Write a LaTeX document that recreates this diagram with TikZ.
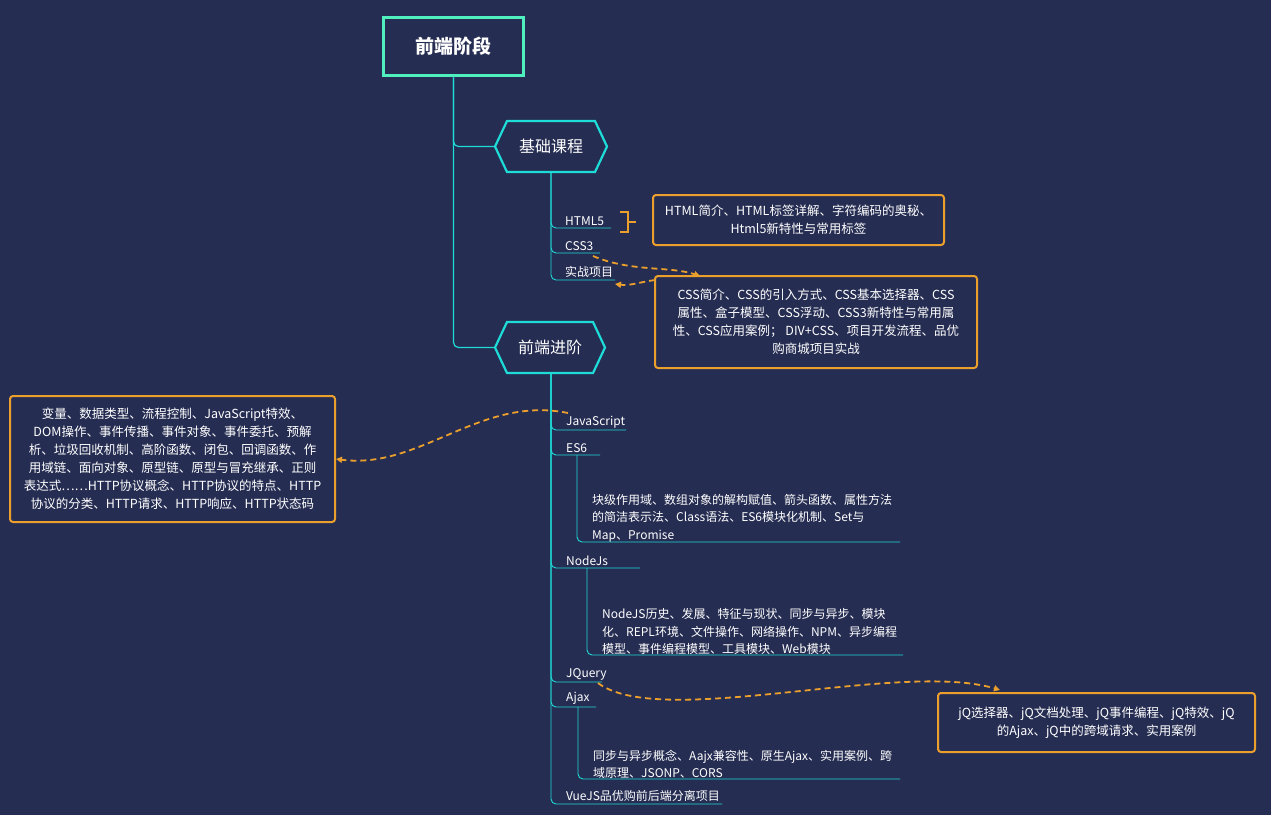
\documentclass[tikz,border=0pt]{standalone}
\usepackage{fontspec}
\setmainfont{Noto Sans CJK SC}
\usetikzlibrary{positioning}
\usetikzlibrary{arrows.meta}
\definecolor{bgc}{RGB}{38,45,82}
\definecolor{teal}{RGB}{30,220,215}
\definecolor{rootc}{RGB}{80,240,190}
\definecolor{orng}{RGB}{235,160,45}

\begin{document}
\begin{tikzpicture}[x=1pt,y=-1pt,
  font=\fontsize{12}{17.5}\selectfont, text=white,
  item/.style={anchor=south west, inner sep=2pt},
  note/.style={draw=orng, line width=2pt, rounded corners=3pt, align=center, inner sep=4pt, font=\fontsize{12.5}{18}\selectfont},
  link/.style={draw=teal, line width=0.9pt, rounded corners=5pt},
  rel/.style={draw=orng, line width=1.8pt, dashed, dash pattern=on 6pt off 4pt, -{Triangle[length=6pt,width=6pt]}}
]
\fill[bgc] (0,0) rectangle (1271,815);

% root and topics
\node[draw=rootc, line width=3.5pt, minimum width=140pt, minimum height=58pt, font=\fontsize{19}{22}\selectfont\bfseries] (root) at (453.5,46.5) {前端阶段};
\draw[teal, line width=2.2pt] (495,146.5) -- (507,121) -- (595,121) -- (607,146.5) -- (595,172) -- (507,172) -- cycle;
\node[font=\fontsize{16}{20}\selectfont] (base) at (551,146.5) {基础课程};
\draw[teal, line width=2.2pt] (495,347.5) -- (507,322) -- (593,322) -- (605,347.5) -- (593,373) -- (507,373) -- cycle;
\node[font=\fontsize{16}{20}\selectfont] (adv) at (550,347.5) {前端进阶};
\coordinate (b1) at (495,146.5);
\coordinate (b2) at (495,347.5);
\draw[link, line width=1.2pt] (root.south) |- (b1);
\draw[link, line width=1.2pt] (root.south) |- (b2);

% basics
\node[item] (html) at (563,228) {HTML5};
\node[item] (css) at (563,253) {CSS3};
\node[item] (proj) at (563,280) {实战项目};
\draw[link] (551,172) |- (611,228);
\draw[link] (551,172) |- (600,253);
\draw[link] (551,172) |- (615,280);
\draw[orng, line width=1.5pt] (620,212) -- (628,212) -- (628,232) -- (620,232) (628,222) -- (636,222);
\node[note, minimum width=291pt, minimum height=50pt] (nhtml) at (798.5,220) {HTML简介、HTML标签详解、字符编码的奥秘、\\Html5新特性与常用标签};
\node[note, minimum width=322pt, minimum height=92pt] (ncss) at (816,322) {CSS简介、CSS的引入方式、CSS基本选择器、CSS\\属性、盒子模型、CSS浮动、CSS3新特性与常用属\\性、CSS应用案例； DIV+CSS、项目开发流程、品优\\购商城项目实战};
\draw[rel] (593,256) .. controls (630,272) and (670,266) .. (700,276);
\draw[rel] (655,280) .. controls (640,282) and (630,286) .. (615,284);

% advanced
\node[item] (js) at (564,430) {JavaScript};
\node[item] (es) at (564,455) {ES6};
\node[item] (node) at (564,568) {NodeJs};
\node[item] (jq) at (564,682) {JQuery};
\node[item] (ajax) at (564,707) {Ajax};
\node[item] (vue) at (564,804) {VueJS品优购前后端分离项目};
\foreach \y/\e in {430/626,455/600,568/640,682/602,707/596,804/722}
  \draw[link] (551,373) |- (\e,\y);
\node[item, align=left] (tes) at (590,544) {块级作用域、数组对象的解构赋值、箭头函数、属性方法\\的简洁表示法、Class语法、ES6模块化机制、Set与\\Map、Promise};
\draw[link] (577,455) |- (900,542);
\node[item, align=left] (tnode) at (600,657) {NodeJS历史、发展、特征与现状、同步与异步、模块\\化、REPL环境、文件操作、网络操作、NPM、异步编程\\模型、事件编程模型、工具模块、Web模块};
\draw[link] (587,568) |- (903,655);
\node[item, align=left] (tajax) at (591,781) {同步与异步概念、Aajx兼容性、原生Ajax、实用案例、跨\\域原理、JSONP、CORS};
\draw[link] (578,707) |- (900,779);

\node[note, minimum width=325pt, minimum height=126pt] (njs) at (172.5,459) {变量、数据类型、流程控制、JavaScript特效、\\DOM操作、事件传播、事件对象、事件委托、预解\\析、垃圾回收机制、高阶函数、闭包、回调函数、作\\用域链、面向对象、原型链、原型与冒充继承、正则\\表达式……HTTP协议概念、HTTP协议的特点、HTTP\\协议的分类、HTTP请求、HTTP响应、HTTP状态码};
\node[note, minimum width=317pt, minimum height=59pt] (njq) at (1096.5,722.5) {jQ选择器、jQ文档处理、jQ事件编程、jQ特效、jQ\\的Ajax、jQ中的跨域请求、实用案例};
\draw[rel] (568,413) .. controls (480,395) and (420,470) .. (njs.east);
\draw[rel] (598,683) .. controls (660,730) and (900,660) .. (1000,690);
\end{tikzpicture}
\end{document}
